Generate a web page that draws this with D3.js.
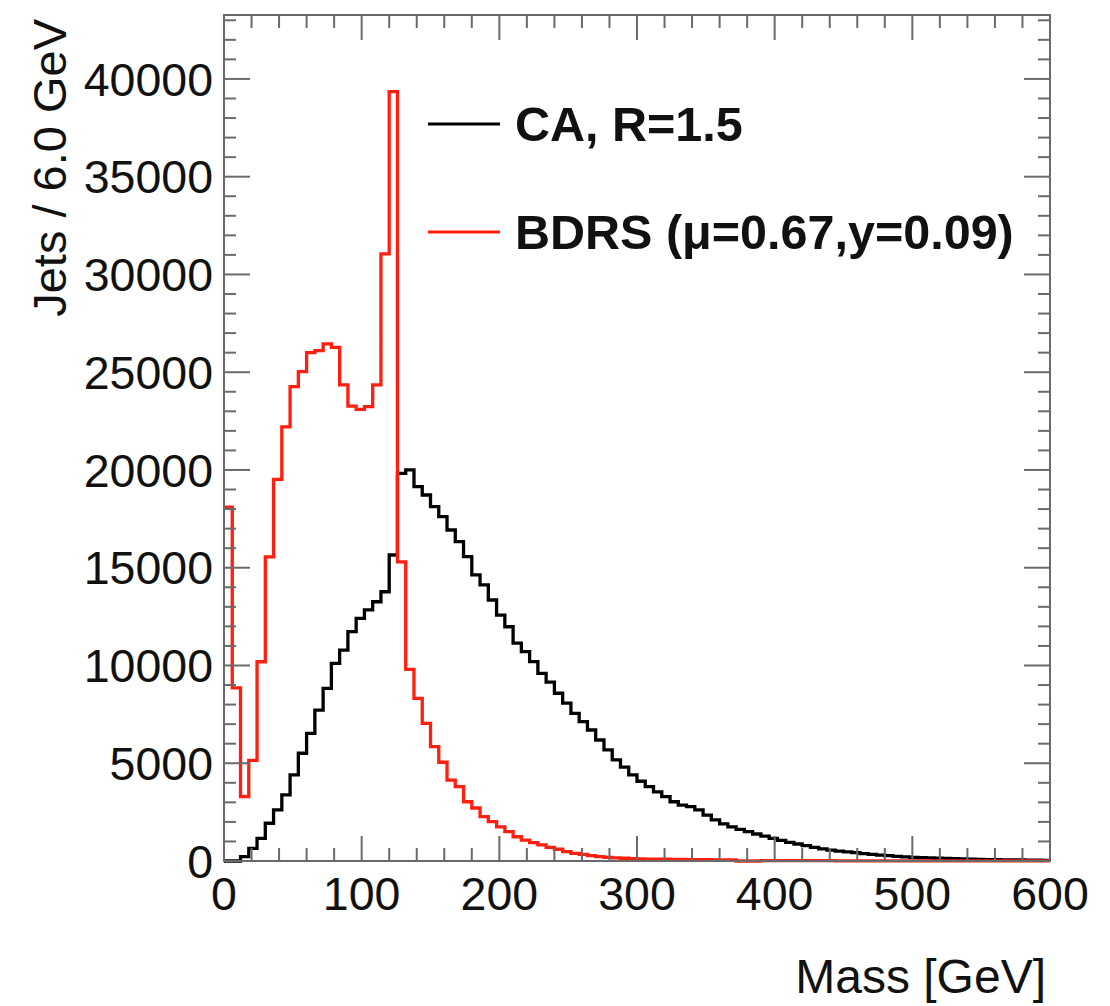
<!DOCTYPE html>
<html>
<head>
<meta charset="utf-8">
<script src="https://cdn.jsdelivr.net/npm/d3@7"></script>
<style>
  html, body { margin: 0; padding: 0; background: #fff; }
  svg { display: block; }
  text { font-family: "Liberation Sans", Arial, Helvetica, sans-serif; fill: #111; }
</style>
</head>
<body>
<svg id="chart" width="1110" height="1006"></svg>
<script>
// ---- data ----
const binWidth = 6;           // GeV
const xDomain = [0, 600];
const yMax = 43270;
const xTickLabels = ["0", "100", "200", "300", "400", "500", "600"];
const yTickLabels = ["0", "5000", "10000", "15000", "20000", "25000", "30000", "35000", "40000"];
const seriesNames = ["CA, R=1.5", "BDRS (\u03bc=0.67,y=0.09)"];

// CA, R=1.5 (black) : 100 bins of 6 GeV
const caValues = [
  0, 0, 220, 650, 1160, 1930, 2610, 3380, 4400, 5510,
  6530, 7720, 8830, 10110, 10790, 11730, 12410, 12840, 13260, 13770,
  15650, 19830, 20000, 19150, 18720, 18120, 17610, 16930, 16330, 15570,
  14630, 14120, 13350, 12580, 11980, 11140, 10710, 10200, 9600, 9150,
  8580, 8070, 7550, 7130, 6700, 6190, 5680, 5170, 4800, 4400,
  4080, 3800, 3540, 3290, 3030, 2860, 2780, 2610, 2350, 2100,
  1900, 1750, 1620, 1500, 1380, 1270, 1160, 1050, 950, 870,
  790, 700, 620, 560, 510, 470, 430, 380, 340, 300,
  270, 240, 210, 190, 170, 155, 140, 130, 120, 105,
  95, 85, 75, 70, 60, 55, 50, 45, 40, 35
];

// BDRS (red) : 100 bins of 6 GeV
const bdrsValues = [
  18100, 8850, 3300, 5150, 10190, 15560, 19520, 22200, 24260, 25030,
  26000, 26100, 26450, 26270, 24350, 23270, 23100, 23240, 24350, 31050,
  39350, 15300, 9800, 8320, 7040, 5850, 5050, 4140, 3800, 3030,
  2710, 2270, 2010, 1750, 1500, 1240, 1070, 940, 820, 700,
  600, 480, 390, 340, 270, 220, 190, 160, 140, 120,
  110, 100, 95, 90, 85, 80, 75, 70, 65, 60,
  55, 50, 0, 0, 0, 20, 15, 15, 15, 15,
  15, 15, 15, 15, 10, 10, 10, 10, 10, 10,
  10, 10, 10, 10, 10, 5, 5, 5, 5, 5,
  5, 5, 5, 5, 5, 5, 5, 5, 5, 5
];

// ---- layout ----
const plot = { left: 224, right: 1050, top: 15, bottom: 861 };

const svg = d3.select("#chart");
const x = d3.scaleLinear().domain(xDomain).range([plot.left, plot.right]);
const y = d3.scaleLinear().domain([0, yMax]).range([plot.bottom, plot.top]);

function stepPath(values) {
  const pts = [];
  values.forEach((v, i) => {
    const x0 = x(i * binWidth), x1 = x((i + 1) * binWidth);
    pts.push([x0, y(v)], [x1, y(v)]);
  });
  return d3.line()(pts);
}

svg.append("clipPath").attr("id", "clip")
  .append("rect").attr("x", plot.left).attr("y", plot.top)
  .attr("width", plot.right - plot.left).attr("height", plot.bottom - plot.top + 2);

// histograms
const redColor = "#ff1e10";
svg.append("path").attr("d", stepPath(caValues))
  .attr("fill", "none").attr("stroke", "#000").attr("stroke-width", 3.3)
  .attr("stroke-linejoin", "miter").attr("clip-path", "url(#clip)");
svg.append("path").attr("d", stepPath(bdrsValues))
  .attr("fill", "none").attr("stroke", redColor).attr("stroke-width", 3.3)
  .attr("stroke-linejoin", "miter").attr("clip-path", "url(#clip)");

// frame
const axisColor = "#6a6a6a";
svg.append("rect").attr("x", plot.left).attr("y", plot.top)
  .attr("width", plot.right - plot.left).attr("height", plot.bottom - plot.top)
  .attr("fill", "none").attr("stroke", axisColor).attr("stroke-width", 2);

// ticks
const xMajor = d3.range(0, 601, 100), xMinor = d3.range(0, 601, 20);
const yMajor = d3.range(0, yMax, 5000), yMinor = d3.range(0, yMax, 1000);
const tg = svg.append("g").attr("stroke", axisColor).attr("stroke-width", 2);
xMinor.forEach(v => {
  const L = (v % 100 === 0) ? 25 : 13;
  tg.append("line").attr("x1", x(v)).attr("x2", x(v)).attr("y1", plot.bottom).attr("y2", plot.bottom - L);
  tg.append("line").attr("x1", x(v)).attr("x2", x(v)).attr("y1", plot.top).attr("y2", plot.top + L);
});
yMinor.forEach(v => {
  const L = (v % 5000 === 0) ? 26 : 12;
  tg.append("line").attr("y1", y(v)).attr("y2", y(v)).attr("x1", plot.left).attr("x2", plot.left + L);
  tg.append("line").attr("y1", y(v)).attr("y2", y(v)).attr("x1", plot.right).attr("x2", plot.right - L);
});

// tick labels
const fs = 46.5;
svg.append("g").selectAll("text").data(xMajor).join("text")
  .attr("x", d => x(d)).attr("y", 910)
  .attr("text-anchor", "middle").attr("font-size", fs)
  .text((d, i) => xTickLabels[i]);
svg.append("g").selectAll("text").data(yMajor).join("text")
  .attr("x", 213).attr("y", d => y(d) + fs * 0.36)
  .attr("text-anchor", "end").attr("font-size", fs)
  .text((d, i) => yTickLabels[i]);

// axis titles
svg.append("text").attr("x", 1046).attr("y", 993)
  .attr("text-anchor", "end").attr("font-size", 48).text("Mass [GeV]");
svg.append("text").attr("transform", "translate(66,19) rotate(-90)")
  .attr("text-anchor", "end").attr("font-size", 47).text("Jets / 6.0 GeV");

// legend
const legendY = [124, 232];
const legendColors = ["#000", redColor];
seriesNames.forEach((name, i) => {
  svg.append("line").attr("x1", 428).attr("x2", 500)
    .attr("y1", legendY[i]).attr("y2", legendY[i])
    .attr("stroke", legendColors[i]).attr("stroke-width", 3);
  svg.append("text").attr("x", 515).attr("y", legendY[i] + 17)
    .attr("font-size", 48.5).attr("font-weight", "bold").text(name);
});
</script>
</body>
</html>
